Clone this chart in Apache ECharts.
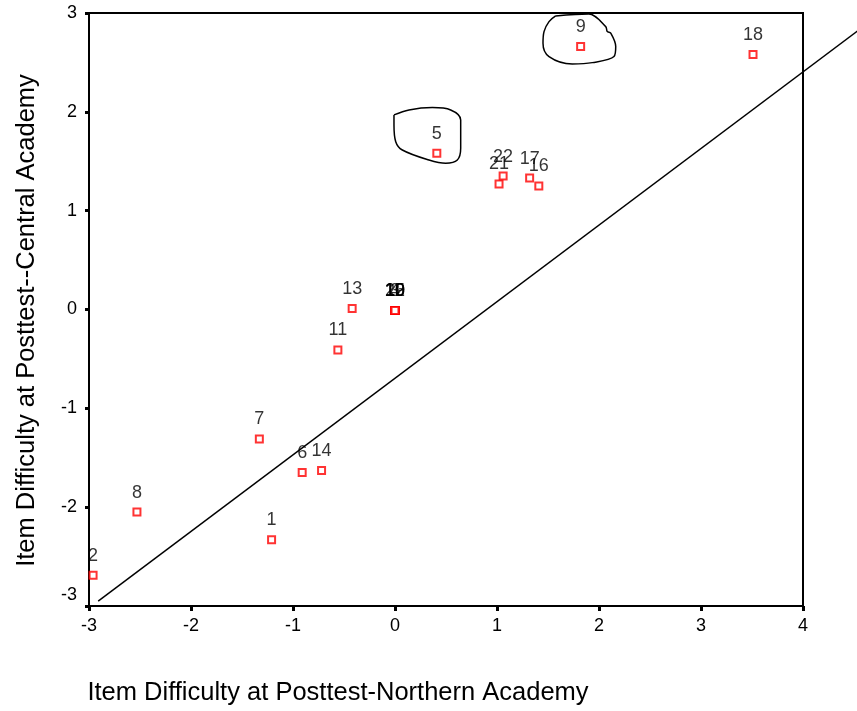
<!DOCTYPE html>
<html>
<head>
<meta charset="utf-8">
<script src="https://cdn.jsdelivr.net/npm/echarts@6/dist/echarts.min.js"></script>
<style>
html,body{margin:0;padding:0;background:#fff;}
#chart{width:857px;height:711px;}
</style>
</head>
<body>
<div id="chart"></div>
<script>
// Item labels and difficulty values
const itemLabels = ['1','2','3','4','5','6','7','8','9','10','11','12','13','14','15','16','17','18','19','20','21','22'];
const northern = [-1.21,-2.96,0,0,0.41,-0.91,-1.33,-2.53,1.82,0,-0.56,0,-0.42,-0.72,0,1.41,1.32,3.51,0,0,1.02,1.06];
const central  = [-2.33,-2.69,-0.01,-0.01,1.58,-1.65,-1.31,-2.05,2.66,-0.01,-0.41,-0.01,0.01,-1.63,-0.01,1.25,1.33,2.58,-0.01,-0.01,1.27,1.35];

// Reference line end points
const fitLineX = [-2.91, 4.55];
const fitLineY = [-2.95, 2.83];

// Hand-drawn outlines (data coordinates)
const outline9X = [1.575,1.90,2.066,2.081,2.115,2.164,2.147,1.934,1.738,1.51,1.451,1.461,1.51,1.575];
const outline9Y = [2.97,2.99,2.862,2.812,2.796,2.66,2.559,2.498,2.485,2.559,2.694,2.812,2.913,2.97];
const outline5X = [-0.01,0.137,0.366,0.546,0.644,0.644,0.611,0.497,0.333,0.072,0.007,-0.01,-0.01];
const outline5Y = [1.969,2.019,2.043,2.019,1.918,1.632,1.513,1.480,1.513,1.614,1.698,1.867,1.969];

// Axis ticks
const xTicks = [-3,-2,-1,0,1,2,3,4];
const yTicks = [-3,-2,-1,0,1,2,3];

const FONT = 'Arial, "Liberation Sans", sans-serif';
const chart = echarts.init(document.getElementById('chart'), null, {renderer:'canvas'});

const zip = (a,b) => a.map((v,i)=>[v,b[i]]);

chart.setOption({
  animation:false,
  backgroundColor:'#fff',
  grid:{left:89, top:13, width:714, height:594, show:true, borderColor:'#000', borderWidth:2, backgroundColor:'transparent'},
  xAxis:{
    type:'value', min:xTicks[0], max:xTicks[xTicks.length-1], interval:1,
    name:'Item Difficulty at Posttest-Northern Academy',
    nameLocation:'middle', nameGap:74,
    nameTextStyle:{fontFamily:FONT, fontSize:25.5, color:'#000', padding:[0,216,0,0]},
    axisLine:{show:true, onZero:false, lineStyle:{color:'#000', width:2}},
    axisTick:{show:true, length:5, lineStyle:{color:'#000', width:3}},
    axisLabel:{fontFamily:FONT, fontSize:18, color:'#000', margin:11},
    splitLine:{show:false}
  },
  yAxis:{
    type:'value', min:yTicks[0], max:yTicks[yTicks.length-1], interval:1,
    name:'Item Difficulty at Posttest--Central Academy',
    nameLocation:'middle', nameGap:49,
    nameTextStyle:{fontFamily:FONT, fontSize:25.5, color:'#000', padding:[0,22,0,0]},
    axisLine:{show:true, onZero:false, lineStyle:{color:'#000', width:2}},
    axisTick:{show:true, length:4, lineStyle:{color:'#000', width:3}},
    axisLabel:{fontFamily:FONT, fontSize:18, color:'#000', margin:12,
      formatter:function(v){ return v === yTicks[0] ? '{low|' + v + '}' : String(v); },
      rich:{low:{fontFamily:FONT, fontSize:18, color:'#000', padding:[0,0,22,0]}}
    },
    splitLine:{show:false}
  },
  series:[
    {
      type:'custom', clip:false, silent:true, z:1,
      data:[[fitLineX[0], fitLineY[0], fitLineX[1], fitLineY[1]]],
      encode:{x:[0,2], y:[1,3]},
      renderItem:function(params, api){
        const p1 = api.coord([api.value(0), api.value(1)]);
        const p2 = api.coord([api.value(2), api.value(3)]);
        return {type:'line', shape:{x1:p1[0], y1:p1[1], x2:p2[0], y2:p2[1]},
                style:{stroke:'#000', lineWidth:1.5}};
      }
    },
    {
      type:'line', data:zip(outline9X, outline9Y), symbol:'none', smooth:0.35, clip:false,
      lineStyle:{color:'#000', width:1.5}, silent:true, z:1
    },
    {
      type:'line', data:zip(outline5X, outline5Y), symbol:'none', smooth:0.35, clip:false,
      lineStyle:{color:'#000', width:1.5}, silent:true, z:1
    },
    {
      type:'scatter',
      data:northern.map((x,i)=>({value:[x, central[i]], name:itemLabels[i]})),
      symbol:'rect', symbolSize:7,
      itemStyle:{color:'#fff', borderColor:'#ff0000', borderWidth:2},
      label:{show:true, position:'top', distance:6, formatter:'{b}', fontFamily:FONT, fontSize:18, color:'#000'},
      z:3
    }
  ]
});
</script>
</body>
</html>
